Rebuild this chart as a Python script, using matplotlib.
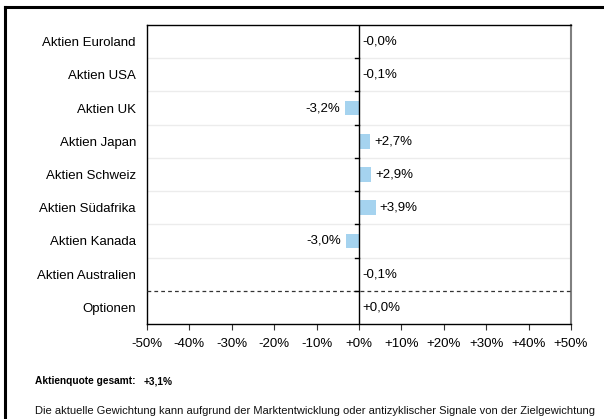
import matplotlib.pyplot as plt
from matplotlib.lines import Line2D

# Data
categories = ['Aktien Euroland', 'Aktien USA', 'Aktien UK', 'Aktien Japan', 'Aktien Schweiz',
              'Aktien Südafrika', 'Aktien Kanada', 'Aktien Australien', 'Optionen']
values = [-0.0, -0.1, -3.2, 2.7, 2.9, 3.9, -3.0, -0.1, 0.0]
xticks = [-50, -40, -30, -20, -10, 0, 10, 20, 30, 40, 50]
total_label = 'Aktienquote gesamt:'
total_value = '+3,1%'
footnote = ('Die aktuelle Gewichtung kann aufgrund der Marktentwicklung oder antizyklischer '
            'Signale von der Zielgewichtung')

plt.rcParams['font.family'] = ['Liberation Sans', 'DejaVu Sans']

fig = plt.figure(figsize=(6.04, 4.19), dpi=100)
ax = fig.add_axes([147 / 604, 1 - 324 / 419, 424 / 604, 299 / 419])

n = len(categories)
ypos = list(range(n))
ax.barh(ypos, values, height=0.44, color='#a5d3ef', zorder=2)

# row separators
for i in range(n - 1):
    if i == n - 2:
        ax.axhline(i + 0.5, color='#333333', lw=0.9, ls=(0, (3, 2.5)), zorder=3)
    else:
        ax.axhline(i + 0.5, color='#ececec', lw=1, zorder=1)
    ax.plot([-0.9, 0], [i + 0.5, i + 0.5], color='black', lw=1, zorder=4)

ax.axvline(0, color='black', lw=1, zorder=4)

# value labels
for y, v in zip(ypos, values):
    txt = f'{v:+.1f}%'.replace('.', ',')
    if v < -0.5:
        ax.text(v - 1.3, y, txt, ha='right', va='center', fontsize=9.5)
    else:
        ax.text(max(v, 0) + 0.9, y, txt, ha='left', va='center', fontsize=9.5)

ax.set_xlim(-50, 50)
ax.set_ylim(n - 0.5, -0.5)
ax.set_yticks(ypos)
ax.set_yticklabels(categories, fontsize=9.5)
ax.tick_params(axis='y', length=0, pad=8)
ax.set_xticks(xticks)
ax.set_xticklabels([f'{t:+d}%' if t != 0 else '+0%' for t in xticks], fontsize=9.5)
ax.tick_params(axis='x', length=4, pad=6, color='#333333')

for s in ['left', 'top', 'bottom']:
    ax.spines[s].set_color('black')
    ax.spines[s].set_linewidth(1)
ax.spines['right'].set_color('#808080')
ax.spines['right'].set_linewidth(1.5)

# outer frame (top and left edges visible)
fig.lines.append(Line2D([5 / 604, 5 / 604], [0, 1 - 7 / 419], transform=fig.transFigure,
                        color='black', lw=2.2))
fig.lines.append(Line2D([5 / 604, 1], [1 - 7 / 419, 1 - 7 / 419], transform=fig.transFigure,
                        color='black', lw=2.2))

fig.text(35 / 604, 1 - 381 / 419, total_label, fontsize=7.3, fontweight='bold', va='center')
fig.text(144 / 604, 1 - 381 / 419, total_value, fontsize=7.3, fontweight='bold', va='center')
fig.text(35 / 604, 1 - 411 / 419, footnote, fontsize=8, va='center', color='#111111')

plt.savefig('out.png', dpi=100)
